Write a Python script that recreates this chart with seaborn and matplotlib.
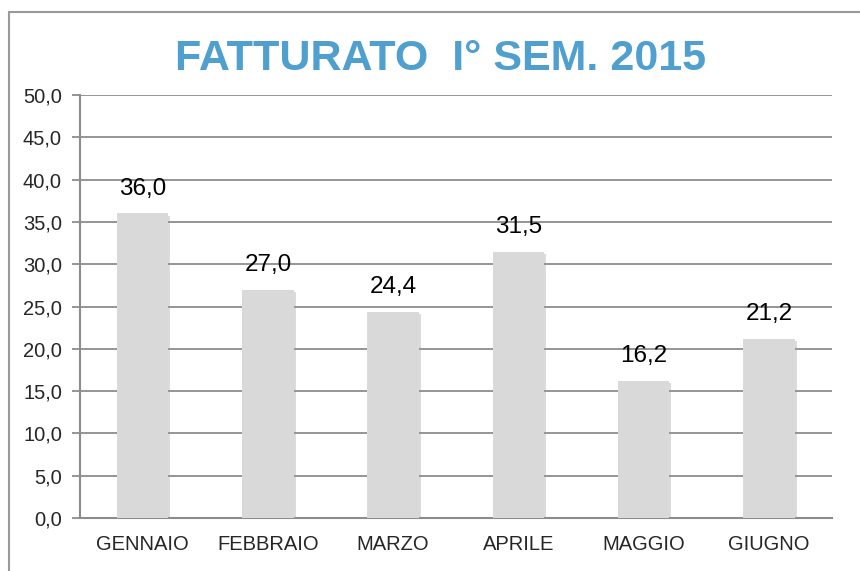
import pandas as pd
import matplotlib
matplotlib.use("Agg")
import matplotlib.pyplot as plt
import matplotlib.patheffects as pe
from matplotlib.ticker import FuncFormatter, MultipleLocator
from matplotlib.patches import Rectangle
import seaborn as sns

# Data
months = ["GENNAIO", "FEBBRAIO", "MARZO", "APRILE", "MAGGIO", "GIUGNO"]
revenue = [36.0, 27.0, 24.4, 31.5, 16.2, 21.2]
title = "FATTURATO  I° SEM. 2015"


def comma(v, pos=None):
    return f"{v:.1f}".replace(".", ",")


def main():
    sns.set_theme(style="white")
    plt.rcParams["font.family"] = ["Liberation Sans", "DejaVu Sans"]

    df = pd.DataFrame({"month": months, "revenue": revenue})

    fig = plt.figure(figsize=(8.6, 5.71), dpi=100)
    ax = fig.add_axes([0.093, 0.0928, 0.874, 0.7408])

    sns.barplot(data=df, x="month", y="revenue", color="#D9D9D9",
                width=0.41, saturation=1, ax=ax, zorder=3)
    for bar in ax.patches:
        bar.set_edgecolor("none")
        bar.set_path_effects([pe.SimplePatchShadow(offset=(1.5, -1.5), shadow_rgbFace="#999999", alpha=0.35),
                              pe.Normal()])

    for i, v in enumerate(revenue):
        ax.annotate(comma(v), (i, v), xytext=(0, 10), textcoords="offset points",
                    ha="center", va="bottom", fontsize=17.5, color="black")

    ax.set_ylim(0, 50)
    ax.set_xlim(-0.5, 5.5)
    ax.yaxis.set_major_locator(MultipleLocator(5))
    ax.yaxis.set_major_formatter(FuncFormatter(comma))
    ax.grid(axis="y", color="#8C8C8C", linewidth=1.3, zorder=0)
    ax.set_axisbelow(True)

    for side in ["top", "right"]:
        ax.spines[side].set_visible(False)
    for side in ["left", "bottom"]:
        ax.spines[side].set_color("#8C8C8C")
        ax.spines[side].set_linewidth(1.5)

    ax.tick_params(axis="y", direction="out", length=6, width=1.3, color="#8C8C8C",
                   labelsize=14.5, pad=7, left=True)
    ax.tick_params(axis="x", length=0, labelsize=14.5, pad=12)
    ax.set_xlabel("")
    ax.set_ylabel("")

    fig.text(0.512, 0.896, title, ha="center", va="center", fontsize=31,
             fontweight="bold", color="#4F9FCF")

    # chart area border (cut off on right and bottom in the original)
    fig.patches.append(Rectangle((0.0105, -0.1), 1.2, 1.079, transform=fig.transFigure,
                                 fill=False, edgecolor="#999999", linewidth=1.5))

    fig.savefig("out.png", dpi=100)


if __name__ == "__main__":
    main()
